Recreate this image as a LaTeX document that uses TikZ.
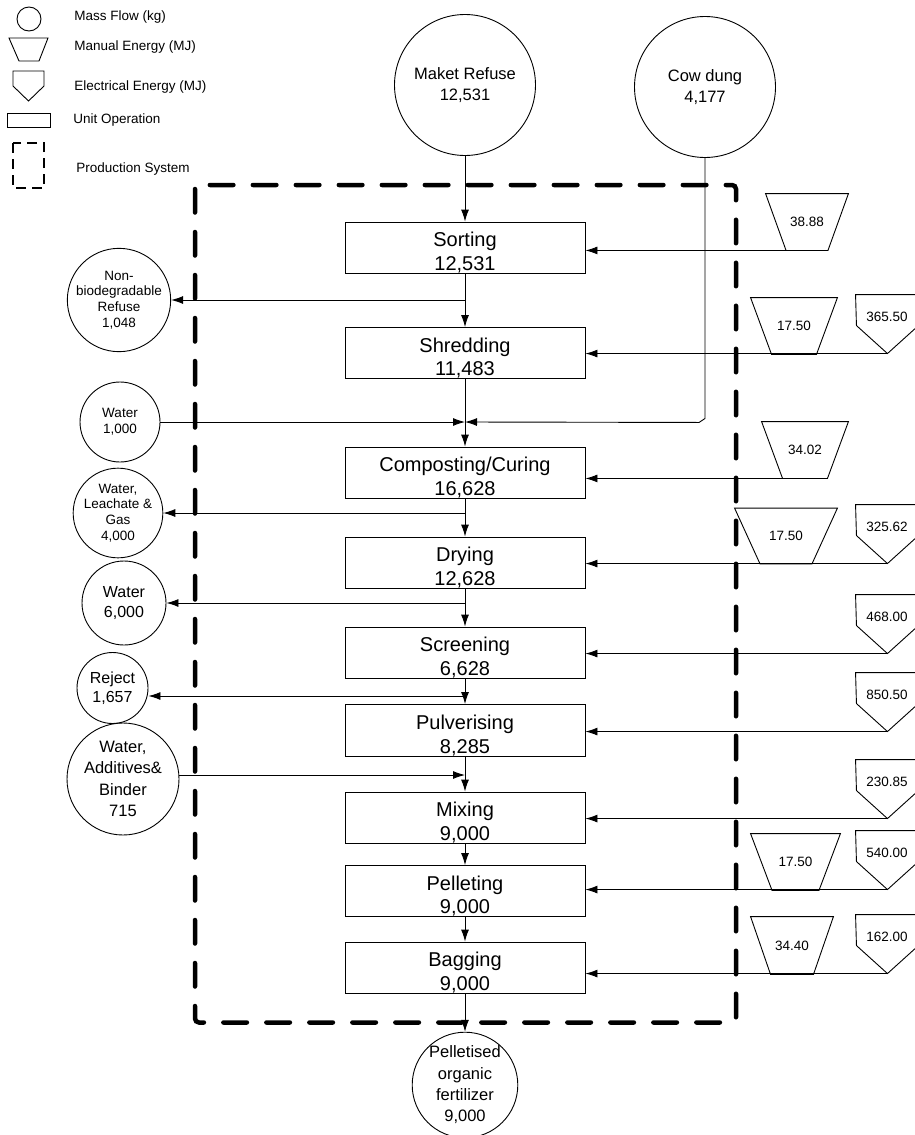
\documentclass[tikz,border=0pt]{standalone}
\usepackage{fontspec}
\setmainfont{Liberation Sans}
\usetikzlibrary{arrows.meta,positioning}

\tikzset{
  flow/.style = {draw, circle, inner sep=0pt, align=center},
  op/.style = {draw, rectangle, minimum width=240pt, minimum height=49pt, inner sep=0pt, align=center, font=\fontsize{20}{23.3}\selectfont, text height=48pt, text depth=3pt},
  manual/.style = {minimum height=56pt, inner sep=0pt, font=\fontsize{13.5}{16}\selectfont},
  elec/.style = {minimum width=62pt, minimum height=44pt, inner sep=0pt, font=\fontsize{13.5}{16}\selectfont},
  system/.style = {line width=4.5pt, dash pattern=on 23.5pt off 19.5pt, line cap=round, rounded corners=4pt},
  legtxt/.style = {anchor=west, inner sep=0pt, font=\fontsize{13.5}{16}\selectfont},
  smalltxt/.style = {font=\fontsize{13.5}{15.8}\selectfont},
  midtxt/.style = {font=\fontsize{16}{19.5}\selectfont},
  bigtxt/.style = {font=\fontsize{16.5}{21.3}\selectfont}
}

\begin{document}
\begin{tikzpicture}[x=1pt, y=-1pt, line width=0.9pt, >={Latex[length=12pt,width=8pt]}]
\useasboundingbox (0,0) rectangle (914,1135);

% legend
\node[flow, minimum size=24pt] (legflow) at (29,19) {};
\draw (9,38) -- (48,38) -- (39,61) -- (19,61) -- cycle;
\draw (13,71) -- (44,71) -- (44,86) -- (28.5,101) -- (13,86) -- cycle;
\node[draw, minimum width=43pt, minimum height=14pt, inner sep=0pt] (legop) at (28.5,120) {};
\draw[line width=2.5pt, dash pattern=on 10pt off 6pt] (13,143) rectangle (44,188);
\node[legtxt] (legflowtxt) at (74,17) {Mass Flow (kg)};
\node[legtxt] (legmantxt) at (74,47) {Manual Energy (MJ)};
\node[legtxt] (legelectxt) at (74,87) {Electrical Energy (MJ)};
\node[legtxt] (legoptxt) at (73,120) {Unit Operation};
\node[legtxt] (legsystxt) at (76,169) {Production System};

% production system
\draw[system] (195,185) rectangle (736,1022.5);

% inputs
\node[flow, bigtxt, minimum size=141pt] (refuse) at (465,85) {Maket Refuse\\12,531};
\node[flow, bigtxt, minimum size=141pt] (cow) at (705,87) {Cow dung\\4,177};

% unit operations
\node[op] (sort) at (465,247.5) {Sorting\\12,531};
\node[op, minimum height=50pt] (shred) at (465,353) {Shredding\\11,483};
\node[op, minimum height=48pt] (comp) at (465,472.5) {Composting/Curing\\16,628};
\node[op] (dry) at (465,562.5) {Drying\\12,628};
\node[op] (screen) at (465,652.5) {Screening\\6,628};
\node[op, minimum height=52pt] (pulv) at (465,730.5) {Pulverising\\8,285};
\node[op] (mix) at (465,817.5) {Mixing\\9,000};
\node[op, minimum height=46pt] (pellet) at (465,891) {Pelleting\\9,000};
\node[op] (bag) at (465,967.5) {Bagging\\9,000};

% side flows
\node[flow, smalltxt, minimum size=95pt] (nonbio) at (119,300) {Non-\\biodegradable\\Refuse\\1,048};
\node[flow, smalltxt, minimum size=80pt] (water1) at (120,422) {Water\\1,000};
\node[flow, smalltxt, minimum size=82pt] (leach) at (118,513) {Water,\\Leachate \&\\Gas\\4,000};
\node[flow, midtxt, minimum size=84pt] (water6) at (124,603) {Water\\6,000};
\node[flow, midtxt, minimum size=71pt] (reject) at (112.5,688) {Reject\\1,657};
\node[flow, bigtxt, minimum size=112pt] (additive) at (123,779) {Water,\\Additives\&\\Binder\\715};
\node[flow, bigtxt, minimum size=104pt] (product) at (465,1085) {Pelletised\\organic\\fertilizer\\9,000};

% energy
\node[manual, minimum width=82pt] (man1) at (807,222) {38.88};
\node[manual, minimum width=86pt] (man2) at (794,326) {17.50};
\node[manual, minimum width=86pt] (man3) at (805,450) {34.02};
\node[manual, minimum width=102pt, minimum height=55pt] (man4) at (786,536) {17.50};
\node[manual, minimum width=89pt] (man8) at (795.5,862) {17.50};
\node[manual, minimum width=82pt, minimum height=57pt] (man9) at (792,945.5) {34.40};
\foreach \m/\d in {man1/20.5, man2/21, man3/21, man4/25.5, man8/21.5, man9/20}
  \draw (\m.north west) -- (\m.north east) -- ([xshift=-\d]\m.south east) -- ([xshift=\d]\m.south west) -- cycle;

\node[elec] (ele2) at (887,317) {365.50};
\node[elec] (ele4) at (887,527) {325.62};
\node[elec] (ele5) at (887,617) {468.00};
\node[elec] (ele6) at (887,695) {850.50};
\node[elec] (ele7) at (887,782) {230.85};
\node[elec] (ele8) at (887,853) {540.00};
\node[elec] (ele9) at (887,937) {162.00};
\foreach \e in {ele2, ele4, ele5, ele6, ele7, ele8, ele9}
  \draw (\e.north west) -- (\e.north east) -- ++(0,31) -- ++(-31,28) coordinate (\e-tip) -- ++(-31,-28) -- cycle;

% junctions
\coordinate (j1) at (465,300);
\coordinate (j2) at (465,422);
\coordinate (j3) at (465,513);
\coordinate (j4) at (465,603);
\coordinate (j5) at (465,696);
\coordinate (j6) at (465,775);

% main line
\draw[->] (refuse.south) -- (sort.north);
\draw[->] (sort.south) -- (shred.north);
\draw[->] (shred.south) -- (comp.north);
\draw[->] (comp.south) -- (dry.north);
\draw[->] (dry.south) -- (screen.north);
\draw[->] (screen.south) -- (pulv.north);
\draw[->] (pulv.south) -- (mix.north);
\draw[->] (mix.south) -- (pellet.north);
\draw[->] (pellet.south) -- (bag.north);
\draw[->] (bag.south) -- (product.north);

% side lines
\draw[->] (j1) -- (nonbio);
\draw[->] (water1) -- (j2);
\draw[->] (cow.south) -- ++(0,260.5) -- ++(-6,4) -- (j2);
\draw[->] (j3) -- (leach);
\draw[->] (j4) -- (water6);
\draw[->] (j5) -- (reject.east |- j5);
\draw[->] (additive.east |- j6) -- (j6);

% energy lines
\draw[->] (man1.south) -- (sort.east |- man1.south);
\draw[->] (ele2-tip) -- (shred.east |- ele2-tip);
\draw[->] (man3.south) -- (comp.east |- man3.south);
\draw[->] (ele4-tip) -- (dry.east |- ele4-tip);
\draw[->] (ele5-tip) -- (screen.east |- ele5-tip);
\draw[->] (ele6-tip) -- (pulv.east |- ele6-tip);
\draw[->] (ele7-tip) -- (mix.east |- ele7-tip);
\draw[->] (ele8-tip) -- (pellet.east |- ele8-tip);
\draw[->] (ele9-tip) -- (bag.east |- ele9-tip);
\end{tikzpicture}
\end{document}
